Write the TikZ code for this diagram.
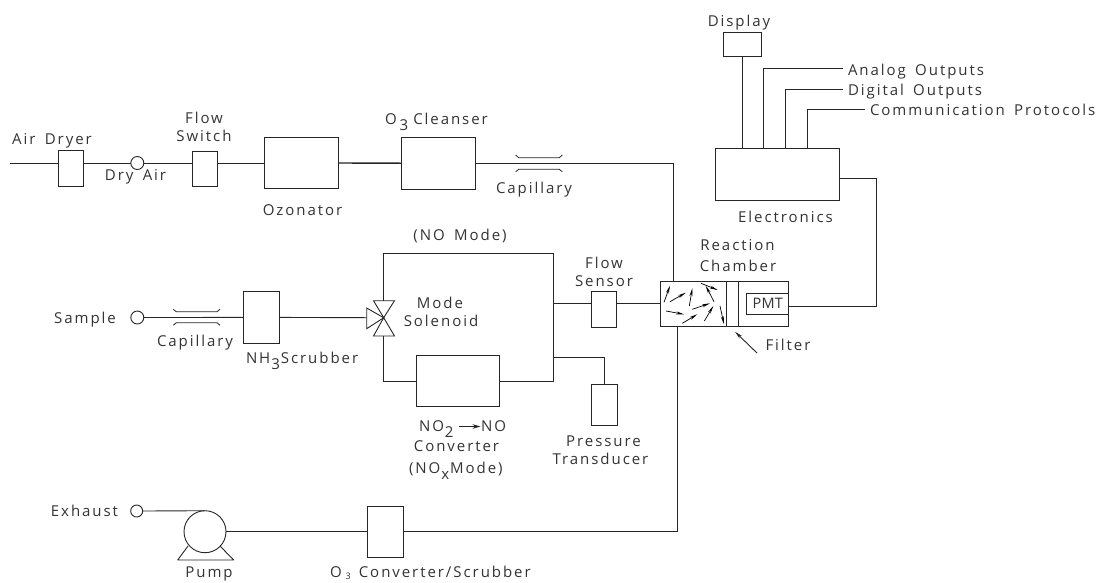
\documentclass[tikz,border=0pt]{standalone}
\usepackage{fontspec}
\setmainfont{Open Sans}[LetterSpace=13,WordSpace=1.6]
\usetikzlibrary{arrows.meta,calc}
\newcommand{\lowsub}[1]{\kern1pt\raisebox{-6pt}{#1}\kern1pt}
\tikzset{
  x=1pt,y=-1pt,
  wire/.style={draw=black!85,line width=0.9pt},
  boxn/.style={draw=black!85,line width=0.9pt,fill=white,inner sep=0pt,outer sep=0pt},
  port/.style={draw=black!85,line width=0.9pt,fill=white,circle,inner sep=0pt,outer sep=0pt,minimum size=13pt},
  lbl/.style={inner sep=0pt,outer sep=0pt,anchor=base,font=\fontsize{15}{15}\selectfont,text=black!80},
  lblw/.style={lbl,anchor=base west},
  flowarrow/.style={draw=black,line width=0.7pt,-{Stealth[length=8pt,width=3pt]}},
  capil/.style={draw=black!85,line width=0.8pt},
}
\begin{document}
\begin{tikzpicture}
\useasboundingbox (0,0) rectangle (1102,582);
% rails
\coordinate (r1) at (0,163);
\coordinate (r3) at (0,303.7);
\coordinate (start) at (10,163);
% top row nodes
\node[boxn,minimum width=25pt,minimum height=35.5pt] (dryer) at (70.5,168.3) {};
\node[port] (dryport) at (137.3,163) {};
\node[boxn,minimum width=25pt,minimum height=35.5pt] (fswitch) at (204.5,168.8) {};
\node[boxn,minimum width=74pt,minimum height=51pt] (ozon) at (301.4,163) {};
\node[boxn,minimum width=73.5pt,minimum height=51.5pt] (clean) at (438.3,163.2) {};
% chamber
\node[boxn,minimum width=128pt,minimum height=44.5pt] (chamber) at (724,303.8) {};
\node[boxn,minimum width=41.3pt,minimum height=21pt] (pmt) at (767.4,303.5) {};
\draw[wire] (726.7,281.6) -- (726.7,326);
\draw[wire] (738,281.6) -- (738,326);
% electronics
\node[boxn,minimum width=124pt,minimum height=51.7pt] (elec) at (777,174.3) {};
\node[boxn,minimum width=37.5pt,minimum height=24pt] (disp) at (742.2,44.5) {};
\coordinate (aout) at (842.7,68);
\coordinate (dout) at (842.7,89);
\coordinate (cout) at (865,109);
\coordinate (aup) at (763.7,148.4);
\coordinate (dup) at (785.7,148.4);
\coordinate (cup) at (807.5,148.4);
\draw[wire] (disp.south) -- (disp.south |- elec.north);
\draw[wire] (aup) |- (aout);
\draw[wire] (dup) |- (dout);
\draw[wire] (cup) |- (cout);
\coordinate (eout) at (839,178);
\coordinate (pmtout) at (788,306);
\draw[wire] (eout) -- (876,178) -- (876,306) -- (pmtout);
% top wires
\draw[wire] (start) -- (dryer.west |- r1);
\draw[wire] (dryer.east |- r1) -- (dryport.west);
\draw[wire] (dryport.east) -- (fswitch.west |- r1);
\draw[wire] (fswitch.east |- r1) -- (ozon.west);
\draw[wire,line width=1.4pt] (ozon.east) -- (clean.west);
\coordinate (into) at (673,281.6);
\draw[wire] (clean.east |- r1) -- (into |- r1) -- (into);
\draw[capil] (515.7,155) -- (518.7,157.7) -- (559.3,157.7) -- (562.3,155);
\draw[capil] (515.7,171.8) -- (518.7,169.3) -- (559.3,169.3) -- (562.3,171.8);
% middle row
\node[port] (sample) at (137.3,317.5) {};
\node[boxn,minimum width=35.6pt,minimum height=51.3pt] (nh3) at (261.5,317.4) {};
\coordinate (sc) at (383.7,317.7);
\draw[wire] (sample.east) -- (nh3.west);
\draw[capil] (173.3,309.3) -- (176.3,311.7) -- (217,311.7) -- (220,309.3);
\draw[capil] (173.3,325.2) -- (176.3,322.8) -- (217,322.8) -- (220,325.2);
\coordinate (vleft) at (366.7,317.7);
\draw[wire] (nh3.east) -- (vleft);
\draw[wire,line join=miter] (sc) -- (373.5,300.7) -- (394.5,300.7) -- cycle;
\draw[wire,line join=miter] (sc) -- (373.5,336) -- (394.5,336) -- cycle;
\draw[wire,line join=miter] (sc) -- (366.7,308) -- (366.7,328.7) -- cycle;
\coordinate (vtop) at (383.7,300.7);
\coordinate (vbot) at (383.7,336);
\coordinate (rt) at (553.3,253.5);
\node[boxn,minimum width=82.6pt,minimum height=51pt] (conv) at (458,381.2) {};
\draw[wire] (vtop) -- (vtop |- rt) -- (rt) -- (rt |- conv.east) -- (conv.east);
\draw[wire] (vbot) -- (vbot |- conv.west) -- (conv.west);
\node[boxn,minimum width=25pt,minimum height=35.6pt] (fsens) at (604.2,309.5) {};
\draw[wire] (rt |- r3) -- (fsens.west |- r3);
\draw[wire] (fsens.east |- r3) -- (chamber.west |- r3);
\node[boxn,minimum width=26.4pt,minimum height=40.7pt] (press) at (604.5,404.7) {};
\coordinate (ptap) at (553.3,357.3);
\draw[wire] (ptap) -| (press.north);
% bottom row
\node[port,minimum size=12pt] (exh) at (136.7,511) {};
\node[boxn,circle,minimum size=42pt] (pump) at (205,531.7) {};
\draw[wire] (exh.east) -- (pump.north);
\node[boxn,minimum width=35.7pt,minimum height=51.3pt] (o3c) at (385.2,531.7) {};
\coordinate (cdown) at (677.7,326);
\draw[wire] (pump.east) -- (o3c.west);
\draw[wire] (o3c.east) -- (cdown |- o3c.east) -- (cdown);
\draw[wire,line join=round] (188,546) -- (177.7,560) -- (233.7,560) -- (220,546);
% chamber arrows
\draw[flowarrow] (664,302.3) -- (670,285.7);
\draw[flowarrow] (670,301.7) -- (685.7,292.7);
\draw[flowarrow] (689.3,306) -- (692.3,288.3);
\draw[flowarrow] (701,283.3) -- (717.7,290);
\draw[flowarrow] (714,301.7) -- (705.7,285.7);
\draw[flowarrow] (692.3,309.3) -- (710,303.3);
\draw[flowarrow] (704.3,321) -- (713.3,306);
\draw[flowarrow] (682.3,323.3) -- (697.3,314.3);
\draw[flowarrow] (666,311) -- (684,314.3);
\draw[flowarrow] (720,306) -- (724,324.3);
% labels
\node[lbl] (t1) at (52,144.5) {Air Dryer};
\node[lbl] (t2) at (135.5,180.5) {Dry Air};
\node[lbl] (t3) at (204,123.5) {Flow};
\node[lbl] (t4) at (204,141) {Switch};
\node[lbl] (t5) at (302.5,215.5) {Ozonator};
\node[lblw] (t6) at (385,124.5) {O\kern2pt\lowsub{3}\kern4pt Cleanser};
\node[lbl] (t7) at (534,193.5) {Capillary};
\node[lbl] (t8) at (460,240.5) {(NO Mode)};
\node[lbl] (t9) at (440,308.5) {Mode};
\node[lbl] (t10) at (441,326.5) {Solenoid};
\node[lbl] (t11) at (85,323.5) {Sample};
\node[lbl] (t12) at (195,346.5) {Capillary};
\node[lblw] (t13) at (246,363.5) {NH\lowsub{3}Scrubber};
\node[lbl] (t14) at (604,268.5) {Flow};
\node[lbl] (t15) at (604,286.5) {Sensor};
\node[lbl] (t16) at (737.5,250.5) {Reaction};
\node[lbl] (t17) at (738,271) {Chamber};
\node[lbl] (t18) at (785.5,222.5) {Electronics};
\node[lbl] (t19) at (788,350.5) {Filter};
\node[lblw] (no2) at (419,431) {NO\lowsub{2}};
\node[lblw] (noto) at (481,431) {NO};
\draw[draw=black!85,line width=0.9pt,-{Stealth[length=8pt,width=4.5pt]}] (459,426.5) -- (480.5,426.5);
\node[lbl] (t20) at (456.5,451.5) {Converter};
\node[lblw] (t21) at (409,473.5) {(NO\lowsub{x}Mode)};
\node[lbl] (t22) at (603.5,446) {Pressure};
\node[lbl] (t23) at (600.5,464.5) {Transducer};
\node[lbl] (t24) at (84.5,516) {Exhaust};
\node[lbl] (t25) at (209,577.5) {Pump};
\node[lblw] (t26) at (330,577.5) {O\kern4pt\raisebox{-1.5pt}{\fontsize{9}{9}\selectfont 3}\kern8pt Converter/Scrubber};
\node[lbl] (t27) at (739,26.5) {Display};
\node[lblw] (t28) at (848,75.5) {Analog Outputs};
\node[lblw] (t29) at (848,95.5) {Digital Outputs};
\node[lblw] (t30) at (870,115.5) {Communication Protocols};
\node[lbl,font=\fontsize{14.5}{15}\selectfont\addfontfeature{LetterSpace=2}] (t31) at (767.7,308.8) {PMT};
\coordinate (ftail) at (757,353);
\coordinate (ftip) at (735,331.7);
\draw[draw=black!85,line width=0.9pt,-{Stealth[length=8pt,width=3.5pt]}] (ftail) -- (ftip);
\end{tikzpicture}
\end{document}
